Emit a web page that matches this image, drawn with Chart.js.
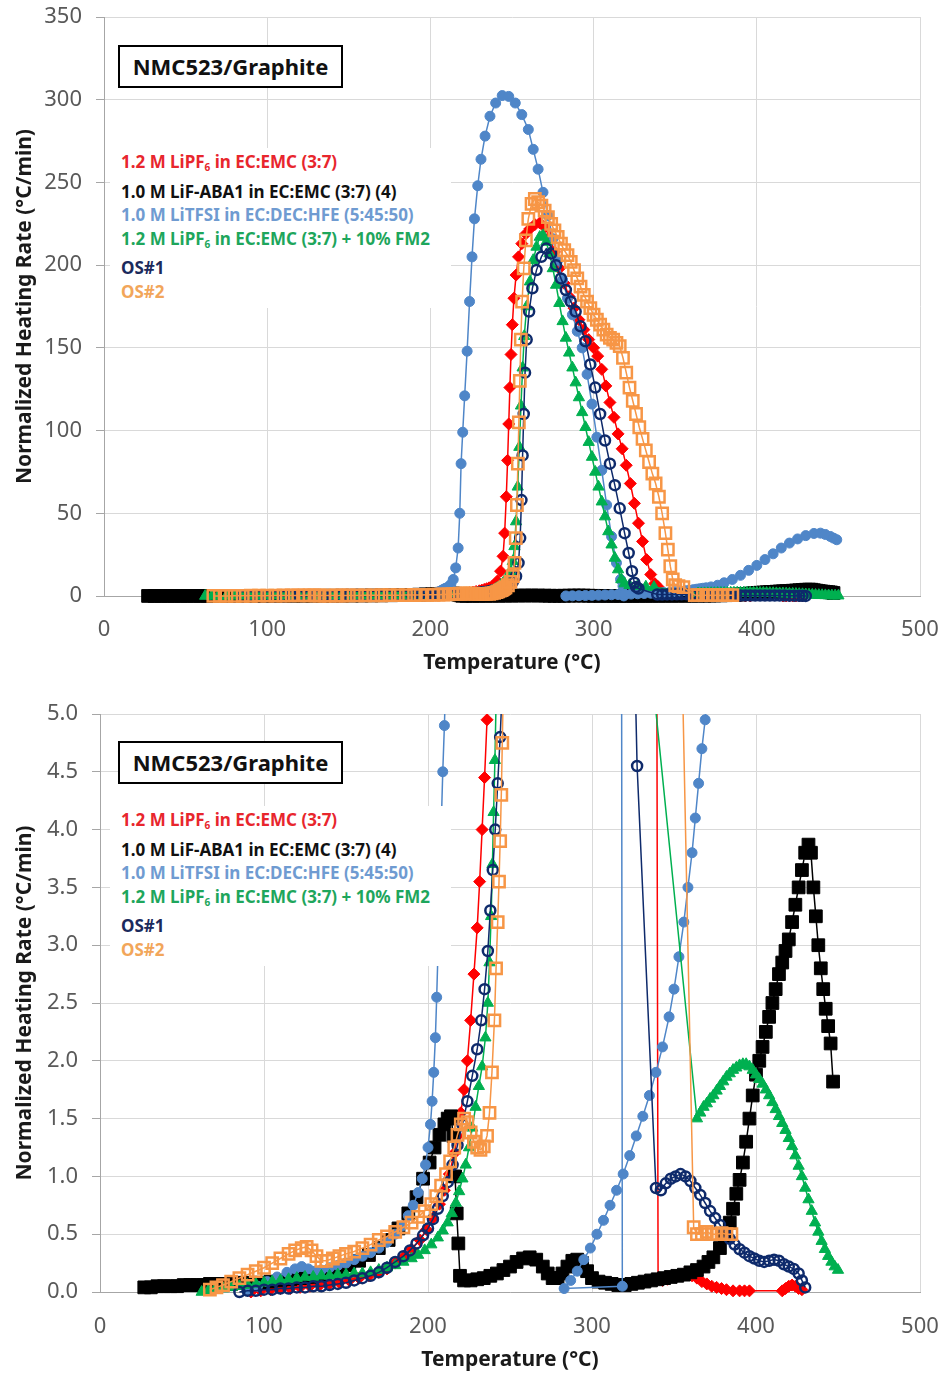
<!DOCTYPE html>
<html>
<head>
<meta charset="utf-8">
<title>Normalized heating rate, NMC523/Graphite</title>
<script src="https://cdn.jsdelivr.net/npm/chart.js@4.4.1/dist/chart.umd.min.js"></script>
<style>
  body { margin: 0; background: #fff; }
  .panel { position: absolute; left: 0; width: 940px; }
  #panelTop { top: 0; height: 690px; }
  #panelBottom { top: 690px; height: 683px; }
  .panel canvas { position: absolute; left: 0; top: 0; }
  .cell-tag {
    position: absolute; left: 118px; width: 221px; height: 39px;
    border: 2px solid #000; background: #fff;
    font: bold 22px 'Noto Sans', sans-serif; line-height: 39px; text-align: center; color: #111;
  }
  .key {
    position: absolute; left: 110px; width: 330px; padding: 2px 0 4px 11px;
    background: #fff; font: bold 17px 'Noto Sans', sans-serif; line-height: 23.6px; white-space: nowrap;
  }
  .key sub { font-size: 10px; vertical-align: -3px; }
</style>
</head>
<body>
<div class="panel" id="panelTop">
  <canvas id="chartTop" width="940" height="690"></canvas>
  <div class="cell-tag" style="top:45px">NMC523/Graphite</div>
  <div class="key" style="top:148px">
    <div style="color:#e8262d">1.2 M LiPF<sub>6</sub> in EC:EMC (3:7)</div>
    <div style="color:#111">1.0 M LiF-ABA1 in EC:EMC (3:7) (4)</div>
    <div style="color:#6f9bd1">1.0 M LiTFSI in EC:DEC:HFE (5:45:50)</div>
    <div style="color:#1ea65c">1.2 M LiPF<sub>6</sub> in EC:EMC (3:7) + 10% FM2</div>
    <div style="color:#1b2a5c">OS#1</div>
    <div style="color:#f2a65a">OS#2</div>
  </div>
</div>
<div class="panel" id="panelBottom">
  <canvas id="chartBottom" width="940" height="683"></canvas>
  <div class="cell-tag" style="top:51px">NMC523/Graphite</div>
  <div class="key" style="top:116px">
    <div style="color:#e8262d">1.2 M LiPF<sub>6</sub> in EC:EMC (3:7)</div>
    <div style="color:#111">1.0 M LiF-ABA1 in EC:EMC (3:7) (4)</div>
    <div style="color:#6f9bd1">1.0 M LiTFSI in EC:DEC:HFE (5:45:50)</div>
    <div style="color:#1ea65c">1.2 M LiPF<sub>6</sub> in EC:EMC (3:7) + 10% FM2</div>
    <div style="color:#1b2a5c">OS#1</div>
    <div style="color:#f2a65a">OS#2</div>
  </div>
</div>
<script>
// ARC runs: temperature (°C) vs normalized heating rate (°C/min)

// 1.2 M LiPF6 in EC:EMC (3:7)
const lipf6Temp = [92, 98, 104, 110, 116, 122, 128, 134, 140, 146, 152, 158, 164, 170, 175, 180, 185, 190, 195, 199,
  203, 207, 210, 213, 216, 218, 220, 222, 224, 226, 228, 230, 231.5, 233, 234.5, 236, 237.5, 239, 241, 243,
  244.5, 245.5, 246.5, 247.3, 248, 248.7, 249.4, 250.2, 251.2, 252.5, 254, 256, 258.5, 261, 264, 267, 270, 273, 276, 279,
  282, 285, 288, 291, 294, 297, 300, 302.5, 305, 307.5, 310, 312.5, 315, 317.5, 320, 322.5, 325, 327.5, 330, 332.5,
  335, 337.5, 339.5, 340.3, 343, 346, 349, 352, 355, 358, 361, 364, 367, 370, 373, 376, 379, 382, 386, 390,
  393, 396, 416, 418, 420, 422, 424, 426, 428];
const lipf6Rate = [0.0, 0.01, 0.02, 0.03, 0.03, 0.04, 0.05, 0.06, 0.07, 0.08, 0.1, 0.12, 0.14, 0.17, 0.2, 0.25, 0.3, 0.37, 0.45, 0.54,
  0.64, 0.76, 0.88, 1.02, 1.2, 1.35, 1.55, 1.75, 2.0, 2.35, 2.75, 3.15, 3.55, 4.0, 4.45, 4.95, 5.6, 6.5, 9, 15,
  24, 38, 60, 82, 104, 126, 146, 164, 180, 194, 205, 213, 219, 222, 224.5, 225.5, 223, 217, 208, 198,
  189, 181, 174, 167, 161, 155, 150, 145, 137, 127, 117, 108, 98, 89, 79, 68, 56, 44, 33, 22,
  13, 7.5, 5.6, 0.12, 0.1, 0.11, 0.13, 0.14, 0.15, 0.15, 0.14, 0.12, 0.09, 0.07, 0.05, 0.04, 0.03, 0.02, 0.01, 0.01,
  0.01, 0.01, 0.01, 0.03, 0.05, 0.06, 0.05, 0.03, 0.02];

// 1.0 M LiF-ABA1 in EC:EMC (3:7)
const abaTemp = [27, 31, 35, 39, 43, 47, 51, 55, 59, 63, 67, 71, 75, 80, 86, 92, 98, 104, 110, 116,
  122, 128, 134, 140, 146, 152, 158, 164, 170, 176, 182, 188, 193, 197, 201, 204, 207, 210, 212, 214,
  215.5, 216.5, 217.5, 218.5, 219.5, 222, 226, 230, 234, 238, 242, 246, 250, 254, 258, 262, 266, 270, 273, 276,
  279, 282, 285, 288, 291, 294, 297, 300, 304, 308, 312, 316, 320, 324, 328, 332, 336, 340, 344, 348,
  352, 356, 360, 364, 368, 371, 374, 378, 381, 384, 386, 388, 390, 392, 394, 396, 398, 400, 402, 404,
  406, 408, 410, 412, 414, 416, 418, 420, 422, 424, 426, 428, 430, 432, 433.5, 435, 436.5, 438, 439.5, 441,
  442.5, 444, 445.5, 447];
const abaRate = [0.04, 0.04, 0.05, 0.05, 0.05, 0.05, 0.06, 0.06, 0.06, 0.06, 0.07, 0.07, 0.07, 0.07, 0.08, 0.08, 0.08, 0.09, 0.1, 0.11,
  0.12, 0.13, 0.15, 0.17, 0.2, 0.23, 0.27, 0.32, 0.38, 0.45, 0.55, 0.68, 0.82, 0.98, 1.12, 1.25, 1.36, 1.45, 1.5, 1.52,
  1.35, 1.0, 0.68, 0.42, 0.14, 0.1, 0.1, 0.11, 0.12, 0.14, 0.16, 0.19, 0.22, 0.26, 0.29, 0.3, 0.28, 0.22, 0.16, 0.12,
  0.12, 0.16, 0.22, 0.27, 0.28, 0.25, 0.18, 0.12, 0.09, 0.08, 0.07, 0.06, 0.06, 0.07, 0.08, 0.09, 0.1, 0.11, 0.12, 0.13,
  0.14, 0.15, 0.17, 0.19, 0.22, 0.26, 0.3, 0.38, 0.48, 0.6, 0.72, 0.85, 0.97, 1.12, 1.3, 1.5, 1.7, 1.88, 2.0, 2.12,
  2.25, 2.38, 2.5, 2.62, 2.75, 2.85, 2.95, 3.05, 3.2, 3.35, 3.5, 3.65, 3.8, 3.87, 3.8, 3.5, 3.25, 3.0, 2.8, 2.62,
  2.45, 2.3, 2.15, 1.82];

// 1.0 M LiTFSI in EC:DEC:HFE (5:45:50)
const tfsiTemp = [90, 96, 102, 108, 114, 119, 123, 127, 131, 135, 140, 145, 150, 155, 160, 165, 170, 175, 180, 184,
  188, 191, 194, 196.5, 198.5, 200, 201.5, 202.5, 203.5, 204.5, 205.3, 206, 206.8, 207.5, 208.2, 209, 210, 211, 212.5, 214,
  215.5, 217, 218, 218.8, 219.8, 221, 222.5, 224, 225.5, 227, 229, 231, 233.5, 236.5, 240, 244, 248, 252, 256, 260,
  263, 266, 269, 272, 275, 278, 281, 284, 287, 290, 293, 296, 299, 302, 305, 308, 311, 314, 316.5, 318,
  318.5, 283, 287, 291, 295, 299, 303, 307, 311, 315, 319, 323, 327, 331, 335, 339, 343, 347, 350, 353,
  356, 358.5, 361, 363, 365, 367, 369, 372, 376, 380, 385, 390, 395, 400, 405, 410, 415, 420, 425, 430,
  435, 439, 442, 445, 447, 449];
const tfsiRate = [0.02, 0.05, 0.09, 0.13, 0.17, 0.2, 0.22, 0.2, 0.18, 0.19, 0.21, 0.23, 0.25, 0.28, 0.31, 0.34, 0.38, 0.43, 0.5, 0.57,
  0.66, 0.75, 0.86, 0.98, 1.1, 1.25, 1.45, 1.65, 1.9, 2.2, 2.55, 2.9, 3.3, 3.7, 4.1, 4.5, 4.9, 5.4, 7, 10,
  17, 29, 50, 80, 99, 121, 148, 178, 205, 228, 248, 264, 278, 290, 298, 302.5, 302, 298, 291, 282,
  270, 258, 244, 230, 216, 203, 191, 180, 170, 160, 150, 134, 116, 96, 76, 55, 36, 20, 10, 6,
  0.05, 0.03, 0.1, 0.18, 0.28, 0.38, 0.5, 0.62, 0.75, 0.88, 1.02, 1.18, 1.35, 1.52, 1.7, 1.9, 2.12, 2.38, 2.62, 2.9,
  3.2, 3.5, 3.8, 4.1, 4.4, 4.7, 4.95, 5.5, 6.5, 8, 10, 12.5, 15.5, 18.5, 22, 25.5, 29, 32, 34.5, 36.5,
  37.8, 38, 37.2, 36, 35, 34];

// 1.2 M LiPF6 in EC:EMC (3:7) + 10% FM2
const fm2Temp = [62, 66, 70, 75, 80, 85, 90, 95, 100, 105, 110, 115, 120, 125, 130, 135, 140, 145, 150, 155,
  160, 165, 170, 175, 180, 185, 190, 194, 198, 202, 206, 209, 212, 214.5, 217, 219, 221, 223, 225, 227,
  229, 231, 233, 235, 236.5, 237.5, 238.5, 239.3, 240, 240.8, 241.5, 243, 245, 247, 249, 250.5, 251.5, 252.5, 253.5, 254.5,
  255.5, 256.5, 257.5, 259, 261, 263, 265, 267, 269, 271, 273, 275, 277, 279, 281, 283, 285, 287, 289, 291,
  293, 295, 297, 299, 301, 303, 305, 307, 309, 311, 313, 315, 317, 319, 322, 327, 332, 337, 364, 366,
  368, 370, 372, 374, 376, 378, 380, 382, 384, 386, 388, 390, 392, 394, 396, 398, 400, 402, 404, 406,
  408, 410, 412, 414, 416, 418, 420, 422, 424, 426, 428, 430, 432, 434, 436, 438, 440, 442, 444, 446,
  448, 450];
const fm2Rate = [0.0, 0.01, 0.02, 0.03, 0.04, 0.05, 0.06, 0.07, 0.08, 0.09, 0.1, 0.11, 0.12, 0.13, 0.13, 0.14, 0.14, 0.15, 0.15, 0.16,
  0.16, 0.17, 0.19, 0.21, 0.23, 0.26, 0.29, 0.32, 0.36, 0.41, 0.47, 0.53, 0.6, 0.68, 0.77, 0.87, 0.98, 1.1, 1.25, 1.42,
  1.6, 1.78, 1.95, 2.2, 2.5, 2.85, 3.25, 3.7, 4.15, 4.6, 5.1, 6.5, 8.5, 11, 15, 21, 30, 45, 66, 90,
  115, 138, 157, 175, 190, 203, 211, 217, 218, 214, 207, 198, 188, 177, 166, 156, 147, 138, 129, 120,
  111, 102, 93, 84, 75, 66, 57, 48, 39, 31, 23, 16, 10, 7.5, 6.5, 6, 5.6, 5.3, 1.5, 1.55,
  1.6, 1.63, 1.67, 1.7, 1.74, 1.78, 1.82, 1.86, 1.89, 1.92, 1.94, 1.96, 1.97, 1.97, 1.95, 1.92, 1.88, 1.84, 1.8, 1.75,
  1.7, 1.64, 1.58, 1.52, 1.46, 1.4, 1.33, 1.26, 1.18, 1.09, 1.0, 0.9, 0.8, 0.7, 0.6, 0.52, 0.44, 0.37, 0.31, 0.26,
  0.22, 0.19];

// OS#1
const os1Temp = [85, 90, 95, 100, 105, 110, 115, 120, 125, 130, 135, 140, 145, 150, 155, 160, 165, 170, 175, 180,
  185, 189, 193, 197, 200, 203, 206, 209, 212, 215, 218, 221, 224, 227, 230, 232.5, 234.5, 236.5, 238, 239.5,
  241, 242.5, 244, 245.5, 248, 250.5, 252.5, 254, 255, 255.8, 256.5, 257.2, 258, 259, 260.5, 262.5, 265, 268, 271, 274,
  277, 280, 283, 286, 289, 292, 295, 298, 301, 304, 307, 310, 313, 316, 319, 321.5, 323.5, 325, 326, 327.5,
  339, 342, 345, 348, 351, 354, 357, 360, 363, 366, 369, 372, 375, 378, 381, 384, 387, 390, 393, 396,
  399, 402, 405, 408, 411, 414, 417, 420, 423, 426, 428, 430];
const os1Rate = [0.0, 0.01, 0.01, 0.02, 0.02, 0.03, 0.03, 0.04, 0.04, 0.05, 0.05, 0.06, 0.07, 0.08, 0.1, 0.12, 0.14, 0.17, 0.21, 0.26,
  0.31, 0.36, 0.42, 0.49, 0.55, 0.63, 0.72, 0.83, 0.95, 1.1, 1.27, 1.45, 1.65, 1.87, 2.1, 2.35, 2.62, 2.95, 3.3, 3.65,
  4.0, 4.4, 4.8, 5.3, 6.5, 8.5, 12, 20, 35, 58, 85, 110, 135, 155, 172, 186, 197, 205, 210, 207,
  200, 192, 185, 178, 172, 163, 154, 140, 126, 110, 94, 80, 67, 53, 38, 26, 15, 8, 5.5, 4.55,
  0.9, 0.88, 0.94, 0.98, 1.0, 1.02, 1.0, 0.96, 0.9, 0.84, 0.77, 0.7, 0.64, 0.58, 0.52, 0.46, 0.41, 0.37, 0.34, 0.31,
  0.29, 0.27, 0.26, 0.27, 0.28, 0.27, 0.24, 0.22, 0.2, 0.16, 0.1, 0.04];

// OS#2
const os2Temp = [67, 71, 75, 80, 85, 90, 95, 100, 105, 110, 115, 119, 123, 126, 129, 132, 135, 138, 142, 146,
  150, 155, 160, 165, 170, 175, 180, 185, 190, 194, 198, 202, 205, 208, 211, 213.5, 216, 218, 220, 222,
  224, 226, 228, 230, 232, 234, 236, 237.5, 239, 240.5, 241.5, 242.5, 243.3, 244, 244.7, 245.3, 246, 247.5, 249, 250.5,
  251.5, 252.3, 253, 253.6, 254.2, 254.8, 255.4, 256.2, 257.2, 258.5, 260, 262, 264, 266, 268, 270, 272, 274, 276, 278,
  280, 282, 284, 286, 288, 290, 292, 294, 296, 298, 300, 302, 304, 306, 308, 310, 312, 314, 316, 318,
  320, 322, 324, 326, 328, 330, 332, 334, 336, 338, 340, 342, 344, 345.5, 347, 348.5, 350, 352, 355, 362,
  364, 367, 370, 373, 376, 379, 382, 385];
const os2Rate = [0.02, 0.04, 0.06, 0.09, 0.12, 0.15, 0.18, 0.21, 0.25, 0.29, 0.33, 0.36, 0.38, 0.39, 0.36, 0.31, 0.27, 0.27, 0.29, 0.31,
  0.33, 0.35, 0.38, 0.41, 0.45, 0.48, 0.52, 0.56, 0.6, 0.65, 0.7, 0.76, 0.83, 0.92, 1.02, 1.13, 1.25, 1.36, 1.45, 1.5,
  1.47, 1.38, 1.3, 1.25, 1.23, 1.26, 1.35, 1.55, 1.9, 2.35, 2.8, 3.2, 3.55, 3.9, 4.3, 4.75, 5.3, 6.5, 8.5, 12,
  20, 35, 55, 80, 105, 130, 155, 178, 198, 215, 228, 237, 240, 238, 236, 233, 229, 225, 221, 217,
  213, 209, 206, 202, 197, 192, 187, 182, 178, 174, 170, 167, 164, 161, 158, 156, 155, 153, 151, 144,
  135, 126, 118, 110, 102, 95, 88, 81, 74, 68, 60, 50, 38, 28, 18, 10, 6.5, 6, 5.4, 0.56,
  0.5, 0.5, 0.52, 0.5, 0.5, 0.51, 0.5, 0.5];

const xTicks = [0, 100, 200, 300, 400, 500];
const topRateTicks = [0, 50, 100, 150, 200, 250, 300, 350];
const zoomRateTicks = [0, 0.5, 1.0, 1.5, 2.0, 2.5, 3.0, 3.5, 4.0, 4.5, 5.0];

// later entries are drawn on top, like the spreadsheet plot
const runs = [
  { name: '1.2 M LiPF6 in EC:EMC (3:7)', temp: lipf6Temp, rate: lipf6Rate, color: '#ff0000', marker: 'rectRot', size: 6, hollow: false },
  { name: '1.0 M LiF-ABA1 in EC:EMC (3:7) (4)', temp: abaTemp, rate: abaRate, color: '#000000', marker: 'rect', size: 9, hollow: false },
  { name: '1.0 M LiTFSI in EC:DEC:HFE (5:45:50)', temp: tfsiTemp, rate: tfsiRate, color: '#4f86c8', marker: 'circle', size: 5, hollow: false },
  { name: '1.2 M LiPF6 in EC:EMC (3:7) + 10% FM2', temp: fm2Temp, rate: fm2Rate, color: '#00b050', marker: 'triangle', size: 6.5, hollow: false },
  { name: 'OS#1', temp: os1Temp, rate: os1Rate, color: '#0e2a6b', marker: 'circle', size: 5, hollow: true },
  { name: 'OS#2', temp: os2Temp, rate: os2Rate, color: '#f79646', marker: 'rect', size: 8, hollow: true }
];

const tickFont = { family: "'Noto Sans', sans-serif", size: 22 };
const titleFont = { family: "'Noto Sans', sans-serif", size: 21, weight: 'bold' };

function buildChart(canvasId, opt) {
  const datasets = runs.map((r, i) => ({
    label: r.name,
    data: r.temp.map((t, k) => ({ x: t, y: r.rate[k] })),
    showLine: true,
    borderColor: r.color,
    borderWidth: 1.5,
    pointStyle: r.marker,
    pointRadius: r.size,
    pointBorderColor: r.color,
    pointBackgroundColor: r.hollow ? 'rgba(255,255,255,0)' : r.color,
    pointBorderWidth: r.hollow ? 2.5 : 1,
    order: runs.length - i,
    clip: opt.clip
  }));

  return new Chart(document.getElementById(canvasId), {
    type: 'scatter',
    data: { datasets: datasets },
    options: {
      responsive: false,
      animation: false,
      layout: { padding: { top: opt.padTop, right: 20, left: 0, bottom: 0 } },
      plugins: { legend: { display: false }, tooltip: { enabled: false } },
      scales: {
        x: {
          type: 'linear',
          min: 0,
          max: 500,
          afterBuildTicks: (axis) => { axis.ticks = xTicks.map(v => ({ value: v })); },
          // fixed box so the plot area lands at the same place in both panels
          afterFit: (axis) => { axis.height = opt.xHeight; axis.paddingLeft = 0; axis.paddingRight = 0; },
          ticks: { color: '#595959', font: tickFont, padding: opt.xTickPad, maxRotation: 0 },
          grid: { color: '#d9d9d9', drawTicks: false },
          border: { color: '#a6a6a6' },
          title: { display: true, text: 'Temperature (°C)', color: '#1a1a1a', font: titleFont, padding: { top: 0, bottom: opt.xTitlePad } }
        },
        y: {
          type: 'linear',
          min: 0,
          max: opt.yMax,
          afterBuildTicks: (axis) => { axis.ticks = opt.yTicks.map(v => ({ value: v })); },
          afterFit: (axis) => { axis.width = opt.yWidth; axis.paddingTop = 0; axis.paddingBottom = 0; },
          ticks: { color: '#595959', font: tickFont, padding: 14, callback: opt.yFormat },
          grid: { color: '#d9d9d9', tickLength: 8, tickColor: '#a6a6a6' },
          border: { color: '#a6a6a6' },
          title: { display: true, text: 'Normalized Heating Rate (°C/min)', color: '#1a1a1a', font: titleFont, padding: { top: 12, bottom: 0 } }
        }
      }
    }
  });
}

// full range
buildChart('chartTop', {
  yMax: 350, yTicks: topRateTicks, yFormat: (v) => String(v),
  padTop: 17, xHeight: 94, yWidth: 104, xTickPad: 21, xTitlePad: 14,
  clip: false
});

// zoom on the onset region, curves cut at 5 °C/min
buildChart('chartBottom', {
  yMax: 5, yTicks: zoomRateTicks, yFormat: (v) => v.toFixed(1),
  padTop: 24, xHeight: 81, yWidth: 100, xTickPad: 22, xTitlePad: 0,
  clip: { left: 12, top: 0, right: 12, bottom: 12 }
});
</script>
</body>
</html>
